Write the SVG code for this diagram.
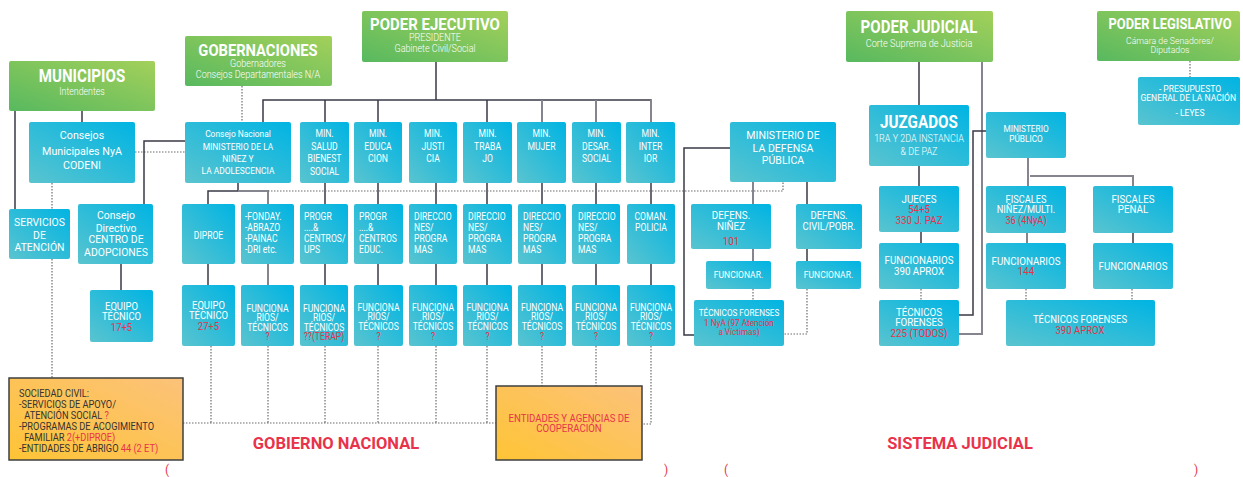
<svg xmlns="http://www.w3.org/2000/svg" width="1243" height="477" viewBox="0 0 1243 477">
<defs>
<linearGradient id="gg" x1="0" y1="1" x2="1" y2="0"><stop offset="0" stop-color="#58b95f"/><stop offset="1" stop-color="#a3d05a"/></linearGradient>
<linearGradient id="bg" x1="0" y1="1" x2="1" y2="0"><stop offset="0" stop-color="#5ac4cf"/><stop offset="1" stop-color="#00b4e3"/></linearGradient>
<linearGradient id="og" x1="0" y1="1" x2="1" y2="0"><stop offset="0" stop-color="#fec435"/><stop offset="1" stop-color="#fcc27a"/></linearGradient>
</defs>
<style>
.g{fill:url(#gg)}
.b{fill:url(#bg)}
.o{fill:url(#og);stroke:#3f3f3f;stroke-width:1.5}
text{font-family:Roboto,"Liberation Sans",sans-serif;fill:#fff;text-anchor:middle}
.l{text-anchor:start}
.h{font-weight:bold}
.r{fill:#e8334a}
.dk{fill:#333}
.s{stroke:#3a3a48;stroke-width:1.5;fill:none}
.s2{stroke:#85858f;stroke-width:2;fill:none}
.d{stroke:#6d6d6d;stroke-width:1.2;stroke-dasharray:1.5 1.5;fill:none}
</style>

<g id="connectors">
<path class="s" d="M15 110V209M82 110V122"/>
<path class="d" d="M52 183V209M52 259V378M135 152H185M242 86V122"/>
<path class="s" d="M185 141H144V204M121 264V290"/>
<path class="s" d="M436 62V100M263 122V100H651V122M325 100V122M378 100V122M487 100V122"/>
<path class="s2" d="M542 100V122M596 100V122M651 100V122"/>
<path class="s" d="M238 183V191H208V204M325 183V204M378 183V204M436 183V204M487 183V204M542 183V204M596 183V204M651 183V204"/>
<path class="s2" d="M238 191H268V204"/>
<path class="d" d="M268 191H783V182"/>
<path class="s" d="M208 264V285M325 264V285M378 264V285M436 264V285M487 264V285M542 264V285M596 264V285M651 264V285"/>
<path class="s2" d="M268 264V285"/>
<path class="d" d="M211 346V423M268 346V423M325 346V423M378 346V423M436 346V423M487 346V423M183 423H496M542 346V386M596 346V386M651 346V424H642"/>
<path class="s2" d="M753 182V204M753 249V261"/>
<path class="s" d="M807 182V204M807 249V261M730 148H684V335H694"/>
<path class="d" d="M753 289V300M807 289V334H784"/>
<path class="s" d="M919 62V105M919 166V186M921 232V243"/>
<path class="d" d="M921 289V300M1026 289V300M1132 289V300M1190 61V77"/>
<path class="s2" d="M982 62V334H959"/>
<path class="s" d="M986 131H973V315H959"/>
<path class="s2" d="M1028 158V186M1030 176H1133V186M1027 233V243"/>
<path class="s" d="M1133 233V243"/>
</g>

<g id="municipios"><rect class="g" x="9" y="61" width="146" height="50" rx="2"/>
<text class="h" font-size="18" transform="translate(82 0) scale(0.84 1)"><tspan x="0" y="82">MUNICIPIOS</tspan></text>
<text font-size="10" font-weight="300" transform="translate(82 0) scale(0.88 1)"><tspan x="0" y="95">Intendentes</tspan></text></g>

<g id="gobernaciones"><rect class="g" x="185" y="36" width="147" height="50" rx="2"/>
<text class="h" font-size="16" transform="translate(258 0) scale(0.92 1)"><tspan x="0" y="56">GOBERNACIONES</tspan></text>
<text font-size="10" font-weight="300" transform="translate(258 0) scale(0.9 1)"><tspan x="0" y="67.5">Gobernadores</tspan><tspan x="0" y="78">Consejos Departamentales N/A</tspan></text></g>

<g id="ejecutivo"><rect class="g" x="362" y="11" width="146" height="51" rx="2"/>
<text class="h" font-size="17" transform="translate(435 0) scale(0.88 1)"><tspan x="0" y="30">PODER EJECUTIVO</tspan></text>
<text font-size="10" font-weight="300" transform="translate(435 0) scale(0.9 1)"><tspan x="0" y="41.5">PRESIDENTE</tspan><tspan x="0" y="52.5">Gabinete Civil/Social</tspan></text></g>

<g id="judicial"><rect class="g" x="846" y="11" width="147" height="51" rx="2"/>
<text class="h" font-size="17.5" transform="translate(919 0) scale(0.86 1)"><tspan x="0" y="33">PODER JUDICIAL</tspan></text>
<text font-size="10" font-weight="300" transform="translate(919 0) scale(0.92 1)"><tspan x="0" y="47.5">Corte Suprema de Justicia</tspan></text></g>

<g id="legislativo"><rect class="g" x="1097" y="11" width="143" height="50" rx="2"/>
<text class="h" font-size="14.5" transform="translate(1170 0) scale(0.89 1)"><tspan x="0" y="29.5">PODER LEGISLATIVO</tspan></text>
<text font-size="9.5" font-weight="300" transform="translate(1170 0) scale(0.92 1)"><tspan x="0" y="44">Cámara de Senadores/</tspan><tspan x="0" y="53">Diputados</tspan></text></g>

<g id="presupuesto"><rect class="b" x="1138" y="77" width="102" height="48" rx="2"/>
<text font-size="9.5" transform="translate(1190 0) scale(0.9 1)"><tspan x="0" y="92">- PRESUPUESTO</tspan><tspan x="-2" y="101.5">GENERAL DE LA NACIÓN</tspan><tspan x="0" y="116">- LEYES</tspan></text></g>

<g id="codeni"><rect class="b" x="29" y="122" width="106" height="61" rx="2"/>
<text font-size="11.5" transform="translate(82 0) scale(0.93 1)"><tspan x="0" y="139">Consejos</tspan><tspan x="0" y="155">Municipales NyA</tspan><tspan x="0" y="169">CODENI</tspan></text></g>

<g id="servicios"><rect class="b" x="9" y="209" width="61" height="50" rx="2"/>
<text font-size="11" transform="translate(39.5 0) scale(0.95 1)"><tspan x="0" y="226">SERVICIOS</tspan><tspan x="0" y="239">DE</tspan><tspan x="0" y="251">ATENCIÓN</tspan></text></g>

<g id="adopciones"><rect class="b" x="78" y="204" width="75" height="60" rx="2"/>
<text font-size="11" transform="translate(116 0) scale(0.95 1)"><tspan x="0" y="219">Consejo</tspan><tspan x="0" y="232">Directivo</tspan><tspan x="0" y="243.5">CENTRO DE</tspan><tspan x="0" y="256">ADOPCIONES</tspan></text></g>

<g id="equipo17"><rect class="b" x="90" y="290" width="63" height="52" rx="2"/>
<text font-size="10.5" transform="translate(121.5 0) scale(0.9 1)"><tspan x="0" y="310">EQUIPO</tspan><tspan x="0" y="320.5">TÉCNICO</tspan><tspan class="r" x="0" y="331">17+5</tspan></text></g>

<g id="consejo-nacional"><rect class="b" x="185" y="122" width="106" height="61" rx="2"/>
<text font-size="9.8" transform="translate(238 0) scale(0.86 1)"><tspan x="0" y="137">Consejo Nacional</tspan><tspan x="0" y="150">MINISTERIO DE LA</tspan><tspan x="0" y="162">NIÑEZ Y</tspan><tspan x="0" y="174">LA ADOLESCENCIA</tspan></text></g>

<g id="min-salud"><rect class="b" x="300" y="122" width="49" height="61" rx="2"/>
<text font-size="10" transform="translate(324.5 0) scale(0.86 1)"><tspan x="0" y="137">MIN.</tspan><tspan x="0" y="150">SALUD</tspan><tspan x="0" y="162">BIENEST</tspan><tspan x="0" y="175">SOCIAL</tspan></text></g>
<g id="min-educacion"><rect class="b" x="354" y="122" width="48" height="61" rx="2"/>
<text font-size="10" transform="translate(378 0) scale(0.86 1)"><tspan x="0" y="137">MIN.</tspan><tspan x="0" y="150">EDUCA</tspan><tspan x="0" y="162">CION</tspan></text></g>
<g id="min-justicia"><rect class="b" x="409" y="122" width="48" height="61" rx="2"/>
<text font-size="10" transform="translate(433 0) scale(0.86 1)"><tspan x="0" y="137">MIN.</tspan><tspan x="0" y="150">JUSTI</tspan><tspan x="0" y="162">CIA</tspan></text></g>
<g id="min-trabajo"><rect class="b" x="463" y="122" width="49" height="61" rx="2"/>
<text font-size="10" transform="translate(487.5 0) scale(0.86 1)"><tspan x="0" y="137">MIN.</tspan><tspan x="0" y="150">TRABA</tspan><tspan x="0" y="162">JO</tspan></text></g>
<g id="min-mujer"><rect class="b" x="517" y="122" width="49" height="61" rx="2"/>
<text font-size="10" transform="translate(541.5 0) scale(0.86 1)"><tspan x="0" y="137">MIN.</tspan><tspan x="0" y="150">MUJER</tspan></text></g>
<g id="min-desar"><rect class="b" x="572" y="122" width="49" height="61" rx="2"/>
<text font-size="10" transform="translate(596.5 0) scale(0.86 1)"><tspan x="0" y="137">MIN.</tspan><tspan x="0" y="150">DESAR.</tspan><tspan x="0" y="162">SOCIAL</tspan></text></g>
<g id="min-interior"><rect class="b" x="626" y="122" width="49" height="61" rx="2"/>
<text font-size="10" transform="translate(650.5 0) scale(0.86 1)"><tspan x="0" y="137">MIN.</tspan><tspan x="0" y="150">INTER</tspan><tspan x="0" y="162">IOR</tspan></text></g>

<g id="diproe"><rect class="b" x="182" y="204" width="53" height="60" rx="2"/>
<text font-size="10" transform="translate(208.5 0) scale(0.86 1)"><tspan x="0" y="239">DIPROE</tspan></text></g>
<g id="fonday"><rect class="b" x="241" y="204" width="53" height="60" rx="2"/>
<text class="l" font-size="10" transform="translate(245 0) scale(0.86 1)"><tspan x="0" y="220">-FONDAY.</tspan><tspan x="0" y="231">-ABRAZO</tspan><tspan x="0" y="242">-PAINAC</tspan><tspan x="0" y="253">-DRI etc.</tspan></text></g>
<g id="progr-ups"><rect class="b" x="300" y="204" width="48" height="60" rx="2"/>
<text class="l" font-size="10" transform="translate(304 0) scale(0.86 1)"><tspan x="0" y="220">PROGR</tspan><tspan x="0" y="231">....&amp;</tspan><tspan x="0" y="242">CENTROS/</tspan><tspan x="0" y="253">UPS</tspan></text></g>
<g id="progr-educ"><rect class="b" x="354" y="204" width="49" height="60" rx="2"/>
<text class="l" font-size="10" transform="translate(359 0) scale(0.86 1)"><tspan x="0" y="220">PROGR</tspan><tspan x="0" y="231">....&amp;</tspan><tspan x="0" y="242">CENTROS</tspan><tspan x="0" y="253">EDUC.</tspan></text></g>
<g id="dir-justicia"><rect class="b" x="409" y="204" width="48" height="60" rx="2"/>
<text class="l" font-size="10" transform="translate(414 0) scale(0.86 1)"><tspan x="0" y="220">DIRECCIO</tspan><tspan x="0" y="231">NES/</tspan><tspan x="0" y="242">PROGRA</tspan><tspan x="0" y="253">MAS</tspan></text></g>
<g id="dir-trabajo"><rect class="b" x="463" y="204" width="49" height="60" rx="2"/>
<text class="l" font-size="10" transform="translate(468 0) scale(0.86 1)"><tspan x="0" y="220">DIRECCIO</tspan><tspan x="0" y="231">NES/</tspan><tspan x="0" y="242">PROGRA</tspan><tspan x="0" y="253">MAS</tspan></text></g>
<g id="dir-mujer"><rect class="b" x="518" y="204" width="48" height="60" rx="2"/>
<text class="l" font-size="10" transform="translate(523 0) scale(0.86 1)"><tspan x="0" y="220">DIRECCIO</tspan><tspan x="0" y="231">NES/</tspan><tspan x="0" y="242">PROGRA</tspan><tspan x="0" y="253">MAS</tspan></text></g>
<g id="dir-desar"><rect class="b" x="572" y="204" width="48" height="60" rx="2"/>
<text class="l" font-size="10" transform="translate(578 0) scale(0.86 1)"><tspan x="0" y="220">DIRECCIO</tspan><tspan x="0" y="231">NES/</tspan><tspan x="0" y="242">PROGRA</tspan><tspan x="0" y="253">MAS</tspan></text></g>
<g id="coman-policia"><rect class="b" x="627" y="204" width="48" height="60" rx="2"/>
<text font-size="10" transform="translate(651 0) scale(0.86 1)"><tspan x="0" y="220">COMAN.</tspan><tspan x="0" y="231">POLICIA</tspan></text></g>

<g id="equipo27"><rect class="b" x="182" y="285" width="53" height="61" rx="2"/>
<text font-size="10.5" transform="translate(208.5 0) scale(0.9 1)"><tspan x="0" y="309">EQUIPO</tspan><tspan x="0" y="319.5">TÉCNICO</tspan><tspan class="r" x="0" y="330">27+5</tspan></text></g>
<g id="func-fonday"><rect class="b" x="241" y="285" width="53" height="61" rx="2"/>
<text font-size="10" transform="translate(267.5 0) scale(0.86 1)"><tspan x="0" y="312">FUNCIONA</tspan><tspan x="0" y="321.5">RIOS/</tspan><tspan x="0" y="331">TÉCNICOS</tspan><tspan class="r" x="0" y="340.5">?</tspan></text></g>
<g id="func-ups"><rect class="b" x="300" y="285" width="48" height="61" rx="2"/>
<text font-size="10" transform="translate(324 0) scale(0.86 1)"><tspan x="0" y="312">FUNCIONA</tspan><tspan x="0" y="321.5">RIOS/</tspan><tspan x="0" y="331">TÉCNICOS</tspan><tspan class="r" x="0" y="340.5">??(TERAP)</tspan></text></g>
<g id="func-educ"><rect class="b" x="354" y="285" width="49" height="61" rx="2"/>
<text font-size="10" transform="translate(378.5 0) scale(0.86 1)"><tspan x="0" y="311">FUNCIONA</tspan><tspan x="0" y="320.5">RIOS/</tspan><tspan x="0" y="330">TÉCNICOS</tspan><tspan class="r" x="0" y="340">?</tspan></text></g>
<g id="func-justicia"><rect class="b" x="409" y="285" width="48" height="61" rx="2"/>
<text font-size="10" transform="translate(433 0) scale(0.86 1)"><tspan x="0" y="311">FUNCIONA</tspan><tspan x="0" y="320.5">RIOS/</tspan><tspan x="0" y="330">TÉCNICOS</tspan><tspan class="r" x="0" y="340">?</tspan></text></g>
<g id="func-trabajo"><rect class="b" x="463" y="285" width="49" height="61" rx="2"/>
<text font-size="10" transform="translate(487.5 0) scale(0.86 1)"><tspan x="0" y="311">FUNCIONA</tspan><tspan x="0" y="320.5">RIOS/</tspan><tspan x="0" y="330">TÉCNICOS</tspan><tspan class="r" x="0" y="340">?</tspan></text></g>
<g id="func-mujer"><rect class="b" x="518" y="285" width="48" height="61" rx="2"/>
<text font-size="10" transform="translate(542 0) scale(0.86 1)"><tspan x="0" y="311">FUNCIONA</tspan><tspan x="0" y="320.5">RIOS/</tspan><tspan x="0" y="330">TÉCNICOS</tspan><tspan class="r" x="0" y="340">?</tspan></text></g>
<g id="func-desar"><rect class="b" x="572" y="285" width="48" height="61" rx="2"/>
<text font-size="10" transform="translate(596 0) scale(0.86 1)"><tspan x="0" y="311">FUNCIONA</tspan><tspan x="0" y="320.5">RIOS/</tspan><tspan x="0" y="330">TÉCNICOS</tspan><tspan class="r" x="0" y="340">?</tspan></text></g>
<g id="func-policia"><rect class="b" x="627" y="285" width="48" height="61" rx="2"/>
<text font-size="10" transform="translate(651 0) scale(0.86 1)"><tspan x="0" y="311">FUNCIONA</tspan><tspan x="0" y="320.5">RIOS/</tspan><tspan x="0" y="330">TÉCNICOS</tspan><tspan class="r" x="0" y="340">?</tspan></text></g>

<g id="sociedad-civil"><rect class="o" x="9" y="378" width="174" height="82"/>
<text class="l dk" font-size="10.5" transform="translate(19 0) scale(0.88 1)"><tspan x="0" y="397">SOCIEDAD CIVIL:</tspan><tspan x="0" y="408">-SERVICIOS DE APOYO/</tspan><tspan x="6" y="419">ATENCIÓN SOCIAL <tspan class="r">?</tspan></tspan><tspan x="0" y="430">-PROGRAMAS DE ACOGIMIENTO</tspan><tspan x="6" y="441">FAMILIAR <tspan class="r">2(+DIPROE)</tspan></tspan><tspan x="0" y="452">-ENTIDADES DE ABRIGO <tspan class="r">44 (2 ET)</tspan></tspan></text></g>

<g id="entidades"><rect class="o" x="496" y="386" width="146" height="74"/>
<text class="r" font-size="10" transform="translate(569 0) scale(0.96 1)"><tspan x="0" y="422">ENTIDADES Y AGENCIAS DE</tspan><tspan x="0" y="432">COOPERACIÓN</tspan></text></g>

<g id="defensa"><rect class="b" x="730" y="122" width="106" height="60" rx="2"/>
<text font-size="11.5" transform="translate(783 0) scale(0.92 1)"><tspan x="0" y="139">MINISTERIO DE</tspan><tspan x="0" y="152">LA DEFENSA</tspan><tspan x="0" y="164.5">PÚBLICA</tspan></text></g>
<g id="defens-ninez"><rect class="b" x="691" y="204" width="80" height="45" rx="2"/>
<text font-size="10.5" transform="translate(731 0) scale(0.94 1)"><tspan x="0" y="219">DEFENS.</tspan><tspan x="0" y="230">NIÑEZ</tspan><tspan class="r" x="0" y="245">101</tspan></text></g>
<g id="defens-civil"><rect class="b" x="796" y="204" width="66" height="45" rx="2"/>
<text font-size="10.5" transform="translate(829 0) scale(0.9 1)"><tspan x="0" y="219">DEFENS.</tspan><tspan x="0" y="230">CIVIL/POBR.</tspan></text></g>
<g id="funcionar-ninez"><rect class="b" x="706" y="261" width="65" height="28" rx="2"/>
<text font-size="9.5" transform="translate(738.5 0) scale(0.9 1)"><tspan x="0" y="278">FUNCIONAR.</tspan></text></g>
<g id="funcionar-civil"><rect class="b" x="796" y="261" width="65" height="28" rx="2"/>
<text font-size="9.5" transform="translate(828.5 0) scale(0.9 1)"><tspan x="0" y="278">FUNCIONAR.</tspan></text></g>
<g id="tecnicos-defensa"><rect class="b" x="694" y="300" width="90" height="46" rx="2"/>
<text font-size="9.5" transform="translate(739 0) scale(0.86 1)"><tspan x="0" y="316">TÉCNICOS FORENSES</tspan><tspan class="r" x="0" y="326">1 NyA (97 Atención</tspan><tspan class="r" x="0" y="335.5">a Víctimas)</tspan></text></g>

<g id="juzgados"><rect class="b" x="869" y="105" width="100" height="61" rx="2"/>
<text class="h" font-size="17.5" transform="translate(919 0) scale(0.87 1)"><tspan x="0" y="128">JUZGADOS</tspan></text>
<text font-size="10" font-weight="300" transform="translate(919 0) scale(0.9 1)"><tspan x="0" y="142.5">1RA Y 2DA INSTANCIA</tspan><tspan x="0" y="155.5">&amp; DE PAZ</tspan></text></g>
<g id="jueces"><rect class="b" x="879" y="186" width="80" height="46" rx="2"/>
<text font-size="10.5" transform="translate(919 0) scale(0.93 1)"><tspan x="0" y="203">JUECES</tspan><tspan class="r" x="0" y="213.5">54+5</tspan><tspan class="r" x="0" y="224">330 J. PAZ</tspan></text></g>
<g id="funcionarios-juz"><rect class="b" x="879" y="243" width="80" height="46" rx="2"/>
<text font-size="10.5" transform="translate(919 0) scale(0.93 1)"><tspan x="0" y="264">FUNCIONARIOS</tspan><tspan x="0" y="275">390 APROX</tspan></text></g>
<g id="tecnicos-juz"><rect class="b" x="879" y="300" width="80" height="46" rx="2"/>
<text font-size="10.5" transform="translate(919 0) scale(0.93 1)"><tspan x="0" y="316">TÉCNICOS</tspan><tspan x="0" y="326.5">FORENSES</tspan><tspan class="r" x="0" y="337">225 (TODOS)</tspan></text></g>

<g id="ministerio-publico"><rect class="b" x="986" y="112" width="80" height="46" rx="2"/>
<text font-size="9" transform="translate(1026 0) scale(0.92 1)"><tspan x="0" y="132">MINISTERIO</tspan><tspan x="0" y="142">PÚBLICO</tspan></text></g>
<g id="fiscales-ninez"><rect class="b" x="986" y="186" width="80" height="47" rx="2"/>
<text font-size="10.5" transform="translate(1026 0) scale(0.88 1)"><tspan x="0" y="203">FISCALES</tspan><tspan x="0" y="213.5">NIÑEZ/MULTI.</tspan><tspan class="r" x="0" y="224">36 (4NyA)</tspan></text></g>
<g id="fiscales-penal"><rect class="b" x="1093" y="186" width="80" height="47" rx="2"/>
<text font-size="10.5" transform="translate(1133 0) scale(0.93 1)"><tspan x="0" y="203">FISCALES</tspan><tspan x="0" y="213.5">PENAL</tspan></text></g>
<g id="funcionarios-mp"><rect class="b" x="986" y="243" width="80" height="46" rx="2"/>
<text font-size="10.5" transform="translate(1026 0) scale(0.93 1)"><tspan x="0" y="265">FUNCIONARIOS</tspan><tspan class="r" x="0" y="275.5">144</tspan></text></g>
<g id="funcionarios-penal"><rect class="b" x="1093" y="243" width="80" height="46" rx="2"/>
<text font-size="10.5" transform="translate(1133 0) scale(0.93 1)"><tspan x="0" y="270">FUNCIONARIOS</tspan></text></g>
<g id="tecnicos-mp"><rect class="b" x="1006" y="300" width="149" height="46" rx="2"/>
<text font-size="10.5" transform="translate(1080 0) scale(0.91 1)"><tspan x="0" y="323">TÉCNICOS FORENSES</tspan><tspan class="r" x="0" y="334">390 APROX</tspan></text></g>

<g id="labels">
<text class="h r" font-size="17" transform="translate(336 0) scale(0.97 1)"><tspan x="0" y="449">GOBIERNO NACIONAL</tspan></text>
<text class="h r" font-size="17" transform="translate(960 0) scale(0.97 1)"><tspan x="0" y="449">SISTEMA JUDICIAL</tspan></text>
<text class="r" font-size="12"><tspan x="167" y="474">(</tspan><tspan x="666" y="474">)</tspan><tspan x="726" y="474">(</tspan><tspan x="1196" y="474">)</tspan></text>
</g>
</svg>
